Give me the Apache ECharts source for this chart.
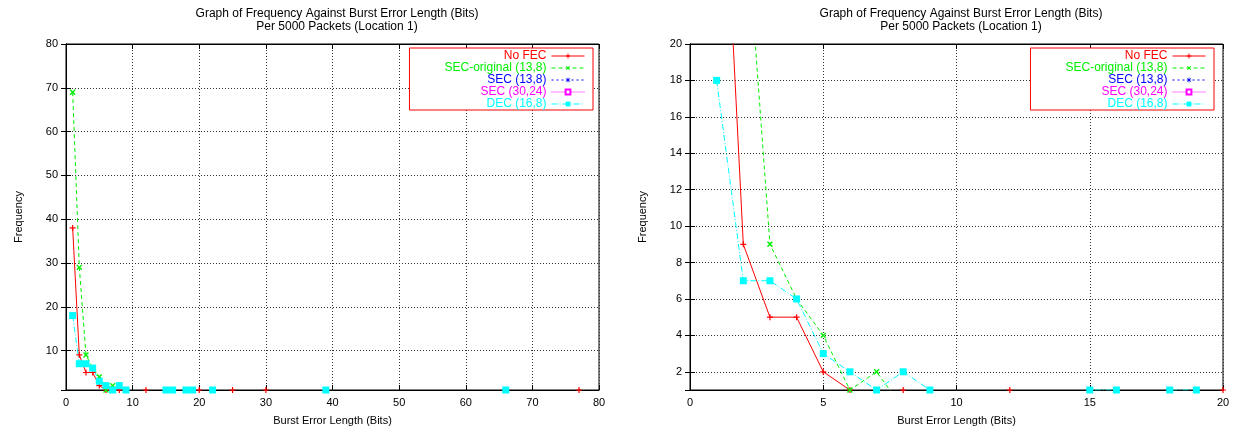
<!DOCTYPE html>
<html>
<head>
<meta charset="utf-8">
<script src="https://cdn.jsdelivr.net/npm/echarts@6/dist/echarts.min.js"></script>
<style>
  html, body { margin: 0; padding: 0; background: #fff; }
  #chart { width: 1234px; height: 428px; }
</style>
</head>
<body>
<div id="chart"></div>
<script>
// burst error length (bits) and how often it was seen, per scheme
const noFecLen = [1, 2, 3, 4, 5, 6, 8, 12, 20, 25, 30, 77]
const noFecCount = [38, 9, 5, 5, 2, 1, 1, 1, 1, 1, 1, 1]
const secOrigLen = [1, 2, 3, 4, 5, 6, 7]
const secOrigCount = [69, 29, 9, 6, 4, 1, 2]
const sec138Len = []
const sec138Count = []
const sec3024Len = []
const sec3024Count = []
const decLen = [1, 2, 3, 4, 5, 6, 7, 8, 9, 15, 16, 18, 19, 22, 39, 66]
const decCount = [18, 7, 7, 6, 3, 2, 1, 2, 1, 1, 1, 1, 1, 1, 1, 1]

const leftXTicks = [0, 80, 10]
const rightXTicks = [0, 20, 5]
const leftYTicks = [1, 80, 10]
const rightYTicks = [1, 20, 2]

const titleText = 'Graph of Frequency Against Burst Error Length (Bits)\nPer 5000 Packets (Location 1)'
const font = 'Liberation Sans, Arial, Helvetica, sans-serif'

const plusPath = 'path://M4,0H6V4H10V6H6V10H4V6H0V4H4Z'
const starPath = 'path://M4.4,0H5.6V3.6L8.2,1L9,1.8L6.4,4.4H10V5.6H6.4L9,8.2L8.2,9L5.6,6.4V10H4.4V6.4L1.8,9L1,8.2L3.6,5.6H0V4.4H3.6L1,1.8L1.8,1L4.4,3.6Z'

const schemes = [
  { name: 'No FEC', len: noFecLen, count: noFecCount, color: '#ff0000', dash: 'solid', symbol: plusPath, size: 6, rotate: 0 },
  { name: 'SEC-original (13,8)', len: secOrigLen, count: secOrigCount, color: '#00ee00', dash: [4, 3], symbol: plusPath, size: 7, rotate: 45 },
  { name: 'SEC (13,8)', len: sec138Len, count: sec138Count, color: '#0000ff', dash: [2, 3], symbol: starPath, size: 7, rotate: 0 },
  { name: 'SEC (30,24)', len: sec3024Len, count: sec3024Count, color: '#ff00ff', dash: [1, 1], symbol: 'emptyRect', size: 6, rotate: 0 },
  { name: 'DEC (16,8)', len: decLen, count: decCount, color: '#00ffff', dash: [6, 2, 1, 2], symbol: 'rect', size: 7, rotate: 0 }
]

// lengths that were never seen count as zero, so the line drops out of the plot there
function buildData(len, count) {
  const out = []
  for (let i = 0; i < len.length; i++) {
    out.push([len[i], count[i]])
    const next = i + 1 < len.length ? len[i + 1] : null
    if (next === null || next > len[i] + 1) {
      out.push({ value: [len[i] + 1, 0], symbol: 'none' })
      if (next !== null && next - 1 > len[i] + 1) {
        out.push({ value: [next - 1, 0], symbol: 'none' })
      }
    }
  }
  return out
}

const grids = [
  { left: 66, top: 44, width: 533, height: 346 },
  { left: 690, top: 44, width: 533, height: 346 }
]

function mainX(idx, t) {
  return {
    type: 'value', gridIndex: idx, min: t[0], max: t[1], interval: t[2],
    name: 'Burst Error Length (Bits)', nameLocation: 'middle', nameGap: 25,
    nameTextStyle: { fontFamily: font, fontSize: 11, color: '#000' },
    axisLine: { lineStyle: { color: '#000', width: 1 } },
    axisTick: { inside: true, length: 5, lineStyle: { color: '#000' } },
    axisLabel: { fontFamily: font, fontSize: 11, color: '#000', margin: 7 },
    splitLine: { show: true, lineStyle: { color: '#333', type: [1, 2], width: 1 } }
  }
}
function mirrorX(idx, t) {
  return {
    type: 'value', gridIndex: idx, position: 'top', min: t[0], max: t[1], interval: t[2],
    axisLine: { lineStyle: { color: '#000' } },
    axisTick: { inside: true, length: 5, lineStyle: { color: '#000' } },
    axisLabel: { show: false },
    splitLine: { show: false }
  }
}
function mainY(idx, t) {
  return {
    type: 'value', gridIndex: idx, min: t[0], max: t[1],
    minInterval: t[2], maxInterval: t[2], splitNumber: 8,
    name: 'Frequency', nameLocation: 'middle', nameRotate: 90, nameGap: 42,
    nameTextStyle: { fontFamily: font, fontSize: 11, color: '#000' },
    axisLine: { show: true, lineStyle: { color: '#000', width: 1 } },
    axisTick: { inside: true, length: 5, lineStyle: { color: '#000' } },
    axisLabel: { fontFamily: font, fontSize: 11, color: '#000', margin: 8, showMinLabel: false },
    splitLine: { show: true, lineStyle: { color: '#333', type: [1, 2], width: 1 } }
  }
}
function mirrorY(idx, t) {
  return {
    type: 'value', gridIndex: idx, position: 'right', min: t[0], max: t[1],
    minInterval: t[2], maxInterval: t[2], splitNumber: 8,
    axisLine: { show: true, lineStyle: { color: '#000' } },
    axisTick: { inside: true, length: 5, lineStyle: { color: '#000' } },
    axisLabel: { show: false },
    splitLine: { show: false }
  }
}

function legendFor(right) {
  return {
    orient: 'vertical', right: right, top: 48, align: 'right',
    backgroundColor: '#fff', borderColor: '#ff0000', borderWidth: 1,
    padding: [2, 8, 0, 35], itemGap: 0, itemWidth: 33, itemHeight: 6,
    lineStyle: { width: 1 },
    textStyle: { fontFamily: font, fontSize: 12, lineHeight: 12 },
    data: schemes.map(s => ({ name: s.name, textStyle: { color: s.color } }))
  }
}

const series = []
for (let g = 0; g < 2; g++) {
  schemes.forEach(s => {
    series.push({
      name: s.name, type: 'line', xAxisIndex: g * 2, yAxisIndex: g * 2,
      data: buildData(s.len, s.count),
      symbol: s.symbol, symbolSize: s.size, symbolRotate: s.rotate,
      showAllSymbol: true, clip: true, animation: false,
      itemStyle: { color: s.color },
      lineStyle: { color: s.color, width: 1, type: s.dash }
    })
  })
}

const chart = echarts.init(document.getElementById('chart'))
chart.setOption({
  backgroundColor: '#fff',
  animation: false,
  title: [
    { text: titleText, left: 332, top: 2, textAlign: 'center', textStyle: { fontFamily: font, fontSize: 12, fontWeight: 'normal', color: '#000', lineHeight: 13 } },
    { text: titleText, left: 956, top: 2, textAlign: 'center', textStyle: { fontFamily: font, fontSize: 12, fontWeight: 'normal', color: '#000', lineHeight: 13 } }
  ],
  legend: [legendFor(641), legendFor(20)],
  grid: grids.map(g => Object.assign({ show: true, borderColor: '#000', borderWidth: 1, backgroundColor: '#fff', outerBoundsMode: 'none', containLabel: false }, g)),
  xAxis: [mainX(0, leftXTicks), mirrorX(0, leftXTicks), mainX(1, rightXTicks), mirrorX(1, rightXTicks)],
  yAxis: [mainY(0, leftYTicks), mirrorY(0, leftYTicks), mainY(1, rightYTicks), mirrorY(1, rightYTicks)],
  series: series
})
</script>
</body>
</html>
